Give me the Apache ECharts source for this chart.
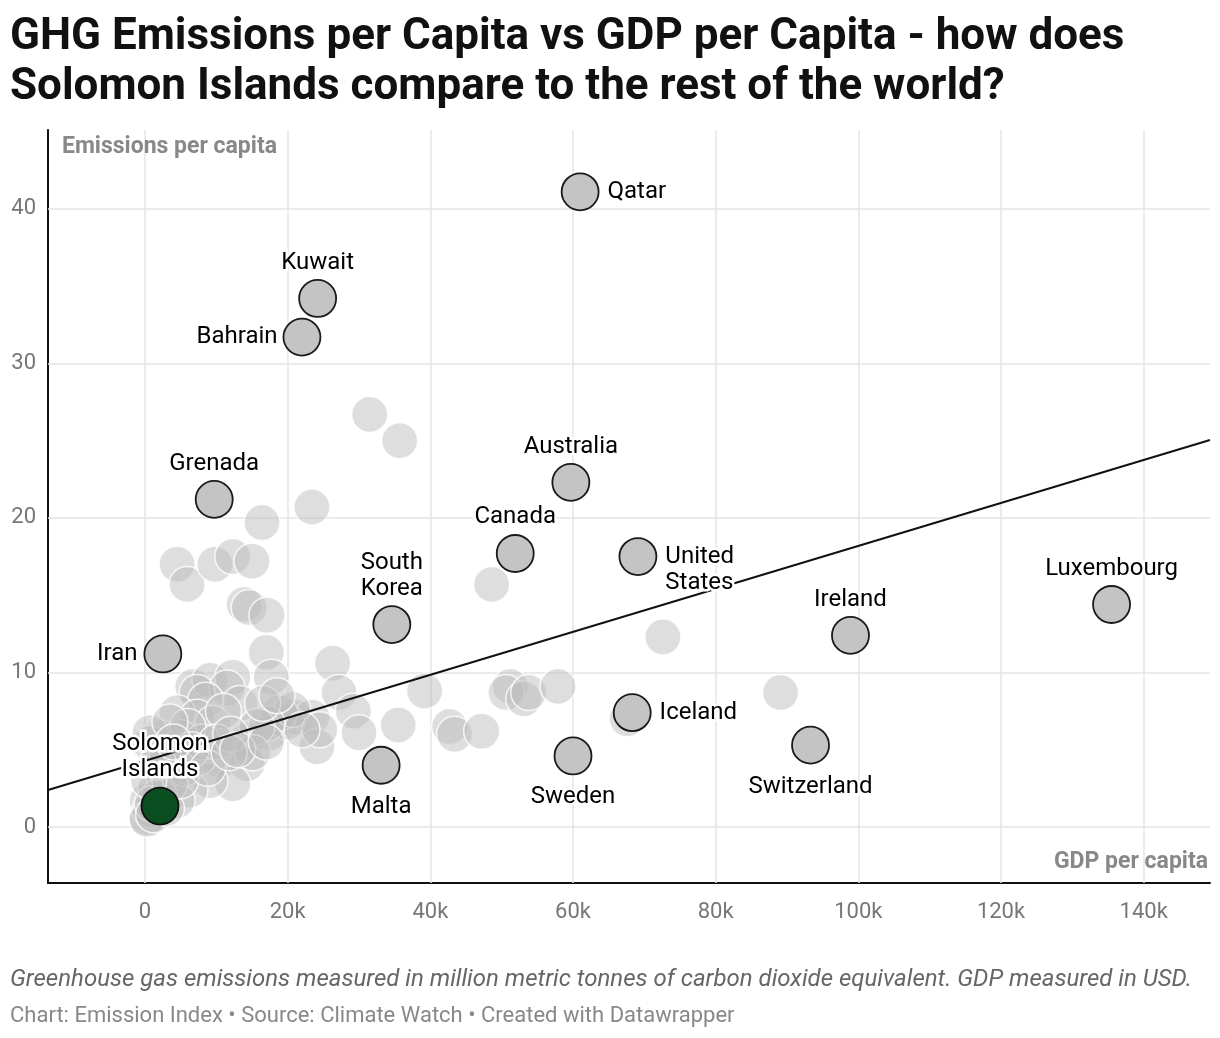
<!DOCTYPE html>
<html><head><meta charset="utf-8">
<script src="https://cdn.jsdelivr.net/npm/echarts@6/dist/echarts.min.js"></script>
<style>html,body{margin:0;padding:0;background:#fff}#c{width:1220px;height:1038px}</style>
</head><body><div id="c"></div>
<script>
// ---- data (GDP per capita in USD, emissions per capita) ----
const bgGdp = [31500,35700,23400,16400,4500,5900,9800,12300,15000,13900,14600,17100,17000,17700,48600,72600,89100,26300,
  27200,29200,30000,35500,39200,42700,43400,47200,51200,50600,53100,53800,57900,67600,
  21000,23400,24100,17500,19900,18900,20700,24500,22000,
  6700,9100,12300,11500,13300,7300,8500,4500,7300,9500,11000,14300,17100,15700,2100,700,4900,700,3100,10500,14300,15100,12300,9100,6300,4500,300,200,700,300,1500,2500,5500,7500,8000,6000,3500,2000,1000,1200,3000,3500,5000,10000,12000,16500,18500,6500,8800,11800,13000,1800,500,4000,17000];
const bgEmissions = [26.7,25.0,20.7,19.7,17.0,15.7,17.0,17.5,17.2,14.4,14.2,13.7,11.3,9.7,15.7,12.3,8.7,10.6,
  8.7,7.5,6.1,6.6,8.8,6.5,6.0,6.2,9.1,8.7,8.3,8.7,9.1,7.0,
  7.1,7.1,5.2,6.1,6.8,7.4,7.6,6.3,6.3,
  9.1,9.5,9.7,9.0,8.0,8.7,8.2,7.4,7.1,6.7,7.5,5.6,6.7,6.5,5.8,5.4,5.8,6.1,4.8,4.3,4.1,4.8,2.8,3.0,2.4,1.7,1.7,0.6,1.1,0.5,2.5,3.5,3.8,4.5,5.5,6.5,6.8,2.0,1.5,0.8,1.2,2.8,3.0,5.5,6.0,8.0,8.5,5.0,3.8,4.8,5.0,4.2,3.0,5.5,5.5];

const hlNames = ['Qatar','Kuwait','Bahrain','Grenada','Australia','Canada','United States','South Korea','Luxembourg','Ireland','Iran','Iceland','Switzerland','Sweden','Malta','Solomon Islands'];
const hlGdp =       [61000,24200,22000,9700,59700,51900,69100,34600,135500,98900,2500,68300,93300,60000,33100,2100];
const hlEmissions = [41.1,34.2,31.7,21.2,22.3,17.7,17.5,13.1,14.4,12.4,11.2,7.4,5.3,4.6,4.0,1.36];
const focusName = 'Solomon Islands';

const trendIntercept = 4.29;      // emissions at GDP 0
const trendSlope = 0.000139;      // emissions per USD

const xTicks = [0,20000,40000,60000,80000,100000,120000,140000];
const yTicks = [0,10,20,30,40];
const xDomain = [-13600,149300];
const yDomain = [-3.62,45.1];

const titleText = 'GHG Emissions per Capita vs GDP per Capita - how does\nSolomon Islands compare to the rest of the world?';
const noteText = 'Greenhouse gas emissions measured in million metric tonnes of carbon dioxide equivalent. GDP measured in USD.';
const sourceText = 'Chart: Emission Index \u2022 Source: Climate Watch \u2022 Created with Datawrapper';
const yTitle = 'Emissions per capita';
const xTitle = 'GDP per capita';

// ---- styling for labels (not data) ----
const labelText = {'United States':'United\nStates','South Korea':'South\nKorea','Solomon Islands':'Solomon\nIslands'};
const labelPlace = {
  'Qatar':{position:'right',distance:8},
  'Kuwait':{position:'top',distance:3},
  'Bahrain':{position:'left',distance:5},
  'Grenada':{position:'top',distance:3},
  'Australia':{position:'top',distance:3},
  'Canada':{position:'top',distance:4},
  'United States':{position:'right',distance:8,offset:[0,13]},
  'South Korea':{position:'top',distance:3},
  'Luxembourg':{position:'top',distance:3},
  'Ireland':{position:'top',distance:3},
  'Iran':{position:'left',distance:6},
  'Iceland':{position:'right',distance:8},
  'Switzerland':{position:'bottom',distance:9},
  'Sweden':{position:'bottom',distance:9},
  'Malta':{position:'bottom',distance:9},
  'Solomon Islands':{position:'top',distance:4}
};

const FONT = 'Roboto, "Noto Sans", sans-serif';
const chart = echarts.init(document.getElementById('c'), null, {renderer:'canvas'});

const bgData = bgGdp.map((g,i)=>[g,bgEmissions[i]]);
const hlData = hlNames.map((n,i)=>{
  const p = labelPlace[n];
  const isFocus = n===focusName;
  return {
    name:n,
    value:[hlGdp[i],hlEmissions[i]],
    itemStyle: isFocus ? {color:'#0b4f21',borderColor:'#111',borderWidth:1.8,opacity:1} : undefined,
    label:Object.assign({show:true,formatter:labelText[n]||n}, p)
  };
});
hlData.sort((a,b)=>(a.name===focusName)-(b.name===focusName));

const trendData = xDomain.map(x=>[x, trendIntercept + trendSlope*x]);

const option = {
  backgroundColor:'#fff',
  animation:false,
  title:{
    text:titleText, left:10, top:13, padding:0,
    textStyle:{fontFamily:FONT,fontSize:44,fontWeight:'bold',color:'#111',lineHeight:50}
  },
  grid:{left:48,right:10,top:130,bottom:155,containLabel:false},
  xAxis:{
    type:'value', min:xDomain[0], max:xDomain[1],
    axisLine:{show:true,onZero:false,lineStyle:{color:'#111',width:2}},
    axisTick:{show:false},
    splitLine:{show:false},
    axisLabel:{customValues:xTicks,margin:18,color:'#777',fontSize:22,fontFamily:FONT,
      formatter:v=>v===0?'0':(v/1000)+'k'}
  },
  yAxis:{
    type:'value', min:yDomain[0], max:yDomain[1],
    axisLine:{show:true,onZero:false,lineStyle:{color:'#111',width:2}},
    axisTick:{show:false},
    splitLine:{show:false},
    axisLabel:{customValues:yTicks,margin:12,color:'#777',fontSize:22,fontFamily:FONT}
  },
  graphic:[
    {type:'text',left:62,top:136,z:100,style:{text:yTitle,fontFamily:FONT,fontSize:23,fontWeight:'bold',fill:'#888'}},
    {type:'text',right:12,top:851,z:100,style:{text:xTitle,fontFamily:FONT,fontSize:23,fontWeight:'bold',fill:'#888',textAlign:'right'}},
    {type:'text',left:10,top:968,style:{text:noteText,fontFamily:FONT,fontSize:24,fontStyle:'italic',fill:'#666'}},
    {type:'text',left:10,top:1005,style:{text:sourceText,fontFamily:FONT,fontSize:22,fill:'#888'}}
  ],
  series:[
    {
      type:'line', data:[], z:1, silent:true,
      markLine:{
        z:1, silent:true, symbol:'none', animation:false,
        label:{show:false},
        lineStyle:{color:'#e4e4e4',width:1.5,type:'solid'},
        emphasis:{disabled:true},
        data: yTicks.map(v=>({yAxis:v})).concat(xTicks.map(v=>({xAxis:v})))
      }
    },
    {
      type:'scatter', data:bgData, z:2, symbolSize:36, silent:true,
      itemStyle:{color:'rgba(188,188,188,0.62)',borderColor:'#fff',borderWidth:1.5,opacity:0.8}
    },
    {
      type:'line', data:trendData, z:3, showSymbol:false, silent:true,
      lineStyle:{color:'#111',width:2}
    },
    {
      type:'scatter', data:hlData, z:4, symbolSize:37, silent:true,
      itemStyle:{color:'#c4c4c4',borderColor:'#1a1a1a',borderWidth:1.8,opacity:1},
      label:{show:true,fontFamily:FONT,fontSize:24,color:'#000',lineHeight:26,
        textBorderColor:'#fff',textBorderWidth:5}
    }
  ]
};
chart.setOption(option);
</script></body></html>
